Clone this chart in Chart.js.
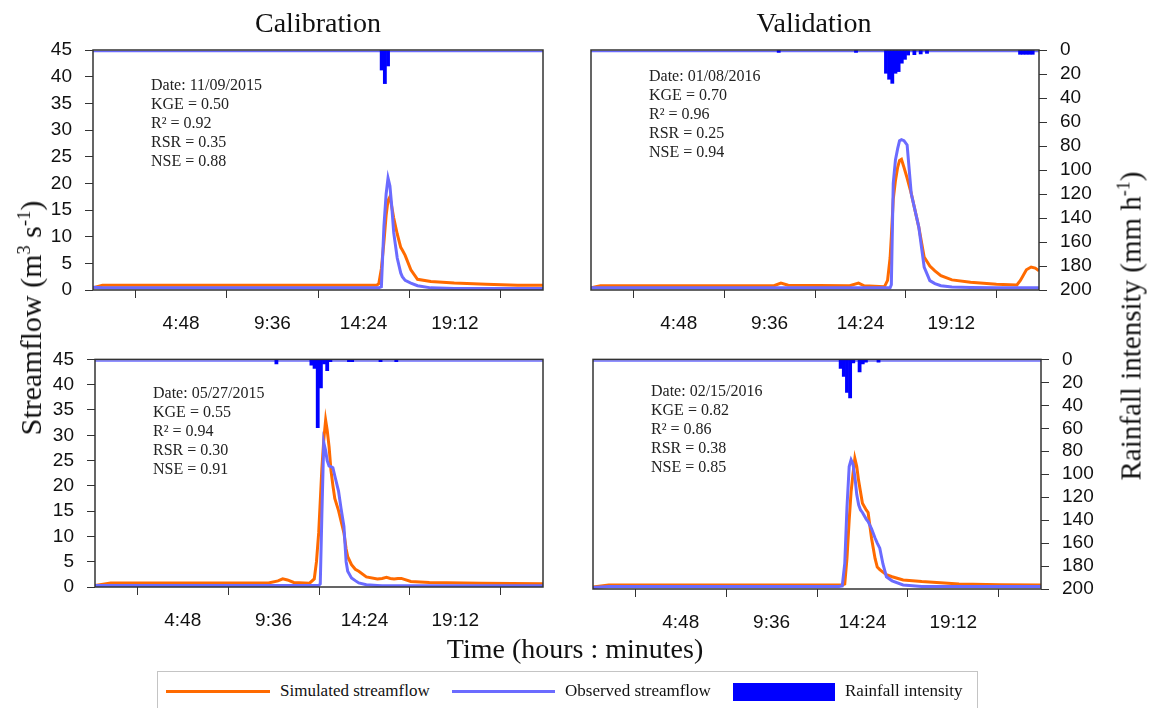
<!DOCTYPE html>
<html>
<head>
<meta charset="utf-8">
<title>Calibration and validation hydrographs</title>
<script src="https://cdn.jsdelivr.net/npm/chart.js@4.4.1/dist/chart.umd.min.js"></script>
<style>
  html, body { margin: 0; padding: 0; background: #fff; }
  #page { position: relative; width: 1151px; height: 708px; overflow: hidden;
          font-family: "Liberation Serif", "Times New Roman", serif; color: #111; }
  #page canvas { position: absolute; }
  .lbl { position: absolute; white-space: nowrap; transform: translate(-50%, -50%); }
  .col-title { font-size: 28px; }
  .ax-title { font-size: 29px; }
  .rot { transform: translate(-50%, -50%) rotate(-90deg); }
  .ax-title sup { font-size: 0.62em; vertical-align: 0.6em; line-height: 0; }
  .legend { position: absolute; left: 157px; top: 671px; width: 821px; height: 60px;
            border: 1px solid #c4c4c4; box-sizing: border-box; }
  .lg-line { position: absolute; height: 3px; }
  .lg-box { position: absolute; }
  .lg-text { position: absolute; font-size: 17px; transform: translateY(-50%); white-space: nowrap; }
</style>
</head>
<body>
<div id="page">
  <canvas id="c1" width="570" height="335" style="left:0;top:0"></canvas>
  <canvas id="c2" width="581" height="335" style="left:570px;top:0"></canvas>
  <canvas id="c3" width="570" height="305" style="left:0;top:335px"></canvas>
  <canvas id="c4" width="581" height="305" style="left:570px;top:335px"></canvas>

  <div class="lbl col-title" style="left:318px;top:23px">Calibration</div>
  <div class="lbl col-title" style="left:814px;top:23px">Validation</div>
  <div class="lbl ax-title rot" style="left:31px;top:318px;font-size:30px">Streamflow (m<sup>3</sup> s<sup>-1</sup>)</div>
  <div class="lbl ax-title rot" style="left:1131px;top:326px">Rainfall intensity (mm h<sup>-1</sup>)</div>
  <div class="lbl ax-title" style="left:575px;top:649px;font-size:28px">Time (hours : minutes)</div>

  <div class="legend"></div>
  <div class="lg-line" style="left:166px;top:690px;width:104px;background:#ff6a00"></div>
  <div class="lg-text" style="left:280px;top:691px">Simulated streamflow</div>
  <div class="lg-line" style="left:452px;top:690px;width:103px;background:#6b6bff"></div>
  <div class="lg-text" style="left:565px;top:691px">Observed streamflow</div>
  <div class="lg-box" style="left:733px;top:683px;width:102px;height:18px;background:#0000ff"></div>
  <div class="lg-text" style="left:845px;top:691px">Rainfall intensity</div>
</div>

<script>
// time axis (minutes after midnight)
const timeTicks = [288, 576, 864, 1152];
const timeLabels = ['4:48', '9:36', '14:24', '19:12'];
const flowTicks = [0, 5, 10, 15, 20, 25, 30, 35, 40, 45];
const rainTicks = [0, 20, 40, 60, 80, 100, 120, 140, 160, 180, 200];

// event statistics, one entry per panel
const eventDates = ['11/09/2015', '01/08/2016', '05/27/2015', '02/15/2016'];
const kge = [0.50, 0.70, 0.55, 0.82];
const r2 = [0.92, 0.96, 0.94, 0.86];
const rsr = [0.35, 0.25, 0.30, 0.38];
const nse = [0.88, 0.94, 0.91, 0.85];

// calibration 11/09/2015
const p1Times = [10, 40, 400, 800, 905, 912, 920, 928, 935, 941, 947, 953, 959, 970, 981, 986, 995, 1013, 1034, 1076, 1150, 1250, 1350, 1430];
const p1Sim = [0.4, 0.9, 0.9, 0.9, 0.9, 1.2, 4.0, 9.0, 14.0, 16.8, 17.5, 15.5, 13.5, 10.5, 8.0, 7.5, 6.5, 3.8, 2.0, 1.6, 1.3, 1.1, 0.9, 0.9];
const p1Obs = [0.5, 0.4, 0.4, 0.4, 0.4, 0.4, 0.6, 11.9, 18.0, 21.0, 19.5, 15.5, 10.7, 6.0, 3.2, 2.5, 1.8, 1.3, 0.8, 0.4, 0.3, 0.3, 0.3, 0.3];
const p1RainTimes = [921, 931, 941];
const p1Rain = [16.7, 28, 13.3];

// validation 01/08/2016
const p2Times = [10, 40, 300, 590, 612, 635, 830, 858, 876, 940, 950, 958, 962, 968, 975, 982, 988, 994, 1002, 1012, 1025, 1049, 1066, 1084, 1100, 1119, 1154, 1213, 1295, 1360, 1371, 1390, 1405, 1418, 1430];
const p2Sim = [0.4, 0.8, 0.8, 0.8, 1.3, 0.9, 0.8, 1.3, 0.8, 0.6, 1.8, 6.0, 10.0, 17.0, 20.5, 23.0, 24.3, 24.5, 23.0, 21.0, 18.1, 11.8, 6.2, 4.5, 3.6, 2.7, 1.9, 1.45, 1.1, 0.95, 1.8, 3.8, 4.3, 4.1, 3.6];
const p2Obs = [0.4, 0.4, 0.4, 0.4, 0.4, 0.4, 0.4, 0.4, 0.4, 0.4, 0.4, 0.4, 1.0, 20.0, 24.4, 26.5, 28.0, 28.2, 28.0, 27.2, 18.1, 11.8, 4.3, 1.76, 1.2, 0.8, 0.55, 0.45, 0.4, 0.4, 0.4, 0.4, 0.4, 0.4, 0.4];
const p2RainTimes = [605, 850, 945, 955, 965, 975, 985, 995, 1005, 1015, 1035, 1055, 1075, 1370, 1380, 1390, 1400, 1410];
const p2Rain = [2, 2, 19.4, 24.4, 27.8, 19.4, 18, 11, 7.8, 4.2, 3.9, 3.3, 2.8, 3.6, 3.6, 3.6, 3.6, 3.6];

// calibration 05/27/2015
const p3Times = [10, 60, 300, 560, 590, 605, 620, 640, 690, 705, 712, 719, 724, 729, 735, 741, 746, 752, 758, 764, 770, 782, 790, 799, 806, 811, 823, 835, 846, 870, 905, 920, 934, 946, 958, 970, 981, 1011, 1070, 1234, 1430];
const p3Sim = [0.3, 0.8, 0.8, 0.8, 1.2, 1.6, 1.4, 0.9, 0.75, 1.6, 5.0, 10.7, 17.0, 23.3, 29.0, 33.0, 31.0, 27.7, 23.0, 20.1, 17.5, 15.1, 13.0, 10.7, 7.5, 6.0, 4.4, 3.5, 3.1, 2.0, 1.6, 1.7, 1.9, 1.7, 1.6, 1.7, 1.7, 1.1, 0.9, 0.75, 0.63];
const p3Obs = [0.3, 0.3, 0.3, 0.3, 0.3, 0.3, 0.3, 0.3, 0.3, 0.3, 0.3, 0.3, 0.6, 14.0, 28.6, 27.0, 25.0, 23.9, 23.8, 23.6, 22.0, 18.9, 15.5, 12.0, 5.0, 3.1, 1.8, 1.26, 0.8, 0.44, 0.3, 0.25, 0.25, 0.25, 0.25, 0.25, 0.25, 0.25, 0.25, 0.25, 0.25];
const p3RainTimes = [585, 696, 706, 716, 726, 736, 746, 756, 815, 825, 915, 965];
const p3Rain = [4, 5, 8, 60, 25, 4, 10, 2, 2, 2, 2, 2];

// validation 02/15/2016
const p4Times = [10, 60, 300, 600, 790, 800, 808, 815, 822, 828, 834, 840, 846, 852, 858, 864, 876, 882, 893, 904, 911, 919, 929, 940, 958, 993, 1052, 1170, 1300, 1430];
const p4Sim = [0.4, 0.8, 0.8, 0.8, 0.8, 0.8, 1.0, 6.0, 13.5, 19.0, 22.5, 25.6, 24.0, 21.2, 19.0, 16.8, 15.5, 15.0, 9.9, 6.0, 4.3, 3.8, 3.3, 2.8, 2.4, 1.76, 1.45, 1.0, 0.85, 0.8];
const p4Obs = [0.3, 0.5, 0.5, 0.5, 0.5, 0.6, 5.0, 16.0, 24.0, 25.3, 24.5, 22.0, 18.5, 16.5, 15.5, 15.0, 13.7, 13.2, 11.8, 10.0, 9.0, 8.0, 4.9, 2.4, 1.6, 0.8, 0.5, 0.5, 0.5, 0.5];
const p4RainTimes = [795, 805, 815, 825, 835, 855, 865, 875, 915];
const p4Rain = [7.8, 14.8, 28.7, 33.5, 3, 11, 4, 2.5, 2.5];

const SIM_COLOR = '#ff6a00';
const OBS_COLOR = '#6b6bff';
const RAIN_COLOR = '#0000ff';
const AXIS_COLOR = '#333';
const tickFont = { family: '"Liberation Sans", Arial, sans-serif', size: 19 };

const panels = [
  { id: 'c1', k: 0, times: p1Times, sim: p1Sim, obs: p1Obs, rainTimes: p1RainTimes, rain: p1Rain,
    side: 'left', pad: { left: 0, right: 27, top: 50, bottom: 0 }, axisW: 93, xH: 45, textTop: 36 },
  { id: 'c2', k: 1, times: p2Times, sim: p2Sim, obs: p2Obs, rainTimes: p2RainTimes, rain: p2Rain,
    side: 'right', pad: { left: 21, right: 52, top: 50, bottom: 0 }, axisW: 60, xH: 45, textTop: 27 },
  { id: 'c3', k: 2, times: p3Times, sim: p3Sim, obs: p3Obs, rainTimes: p3RainTimes, rain: p3Rain,
    side: 'left', pad: { left: 0, right: 27, top: 14, bottom: 0 }, axisW: 95, xH: 53, textTop: 34 },
  { id: 'c4', k: 3, times: p4Times, sim: p4Sim, obs: p4Obs, rainTimes: p4RainTimes, rain: p4Rain,
    side: 'right', pad: { left: 23, right: 50, top: 15, bottom: 0 }, axisW: 60, xH: 51, textTop: 32 }
];

function pairs(xs, ys) {
  return xs.map((x, i) => ({ x: x, y: ys[i] }));
}

function makePanel(p) {
  const statLines = [
    'Date: ' + eventDates[p.k],
    'KGE = ' + kge[p.k].toFixed(2),
    'R\u00B2 = ' + r2[p.k].toFixed(2),
    'RSR = ' + rsr[p.k].toFixed(2),
    'NSE = ' + nse[p.k].toFixed(2)
  ];

  // box around the plot + the pale line under its top edge
  const framePlugin = {
    id: 'frame',
    beforeDatasetsDraw(chart) {
      const a = chart.chartArea, ctx = chart.ctx;
      ctx.save();
      ctx.strokeStyle = OBS_COLOR;
      ctx.lineWidth = 1.5;
      ctx.beginPath();
      ctx.moveTo(a.left, a.top + 1.5);
      ctx.lineTo(a.right, a.top + 1.5);
      ctx.stroke();
      ctx.restore();
    },
    afterDraw(chart) {
      const a = chart.chartArea, ctx = chart.ctx;
      ctx.save();
      ctx.strokeStyle = AXIS_COLOR;
      ctx.lineWidth = 1.5;
      ctx.strokeRect(a.left, a.top, a.right - a.left, a.bottom - a.top);
      ctx.fillStyle = '#222';
      ctx.font = '16px "Liberation Serif", "Times New Roman", serif';
      ctx.textBaseline = 'middle';
      statLines.forEach((s, i) => ctx.fillText(s, a.left + 58, a.top + p.textTop + i * 19));
      ctx.restore();
    }
  };

  const tickGrid = { drawOnChartArea: false, drawTicks: true, tickLength: 8, color: AXIS_COLOR, lineWidth: 1 };

  new Chart(document.getElementById(p.id), {
    type: 'line',
    data: {
      datasets: [
        { type: 'line', label: 'Observed streamflow', data: pairs(p.times, p.obs), yAxisID: 'y',
          borderColor: OBS_COLOR, borderWidth: 3, pointRadius: 0, tension: 0, order: 1 },
        { type: 'line', label: 'Simulated streamflow', data: pairs(p.times, p.sim), yAxisID: 'y',
          borderColor: SIM_COLOR, borderWidth: 3, pointRadius: 0, tension: 0, order: 2 },
        { type: 'bar', label: 'Rainfall intensity', data: pairs(p.rainTimes, p.rain), yAxisID: 'y2',
          backgroundColor: RAIN_COLOR, borderWidth: 0, barPercentage: 1, categoryPercentage: 1, order: 3 }
      ]
    },
    options: {
      responsive: false,
      animation: false,
      events: [],
      layout: { padding: p.pad },
      plugins: { legend: { display: false }, tooltip: { enabled: false } },
      scales: {
        x: {
          type: 'linear', min: 10, max: 1430, offset: false,
          afterBuildTicks: s => { s.ticks = timeTicks.map(v => ({ value: v })); },
          afterFit: s => { s.height = p.xH; },
          ticks: { font: tickFont, color: '#111', padding: 14, maxRotation: 0, autoSkip: false,
                   callback: (v, i) => timeLabels[i] },
          grid: tickGrid,
          border: { display: false }
        },
        y: {
          display: p.side === 'left', position: 'left', min: 0, max: 45,
          afterBuildTicks: s => { s.ticks = flowTicks.map(v => ({ value: v })); },
          afterFit: s => { if (p.side === 'left') s.width = p.axisW; },
          ticks: { font: tickFont, color: '#111', padding: 13, autoSkip: false },
          grid: tickGrid,
          border: { display: false }
        },
        y2: {
          display: p.side === 'right', position: 'right', min: 0, max: 200, reverse: true,
          afterBuildTicks: s => { s.ticks = rainTicks.map(v => ({ value: v })); },
          afterFit: s => { if (p.side === 'right') s.width = p.axisW; },
          ticks: { font: tickFont, color: '#111', padding: 13, autoSkip: false },
          grid: tickGrid,
          border: { display: false }
        }
      }
    },
    plugins: [framePlugin]
  });
}

panels.forEach(makePanel);
</script>
</body>
</html>
